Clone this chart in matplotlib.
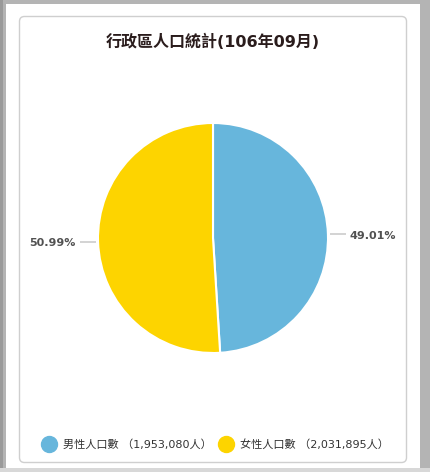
import matplotlib
matplotlib.use("Agg")
import matplotlib.pyplot as plt
import numpy as np
from matplotlib.patches import Rectangle, FancyBboxPatch
from matplotlib.lines import Line2D

categories = ['男性人口數', '女性人口數']
values = [1953080, 2031895]
colors = ['#67b6dc', '#fdd400']
title = '行政區人口統計(106年09月)'

FONTS = ['DejaVu Sans', 'Noto Sans CJK TC']
plt.rcParams['font.family'] = FONTS

W, H = 430, 472
fig = plt.figure(figsize=(W / 100, H / 100), dpi=100, facecolor='white')

# background / frame in pixel coordinates (y downwards)
bg = fig.add_axes([0, 0, 1, 1])
bg.set_xlim(0, W)
bg.set_ylim(H, 0)
bg.axis('off')
bg.add_patch(Rectangle((0, 0), W, H, facecolor='#b4b4b4', edgecolor='none'))
bg.add_patch(Rectangle((0, 0), 3, H, facecolor='#9a9a9a', edgecolor='none'))
bg.add_patch(Rectangle((6, 4), 414, 464, facecolor='white', edgecolor='none'))
bg.add_patch(Rectangle((0, 468), W, 4, facecolor='#d8d8d8', edgecolor='none'))
bg.add_patch(FancyBboxPatch((19.5, 16.5), 387, 446, boxstyle='round,pad=0,rounding_size=5',
                            facecolor='white', edgecolor='#cfcfcf', linewidth=1))

# pie axes in pixel units (y upwards)
ax = fig.add_axes([0, 0, 1, 1])
ax.set_xlim(0, W)
ax.set_ylim(0, H)
ax.axis('off')
cx, cy, r = 213, H - 238, 115
wedges, _ = ax.pie(values, colors=colors, startangle=90, counterclock=False,
                   center=(cx, cy), radius=r, frame=True,
                   wedgeprops=dict(edgecolor='white', linewidth=1.5))
ax.set_xlim(0, W)
ax.set_ylim(0, H)
ax.set_aspect('equal')
ax.axis('off')

total = sum(values)
for w, v in zip(wedges, values):
    ang = np.deg2rad((w.theta1 + w.theta2) / 2)
    pct = v / total * 100
    x0 = cx + (r + 2) * np.cos(ang)
    y0 = cy + (r + 2) * np.sin(ang)
    side = 1 if np.cos(ang) >= 0 else -1
    x1 = x0 + side * 16
    ax.plot([x0, x1], [y0, y0], color='#cccccc', lw=1.2, solid_capstyle='butt')
    ax.text(x1 + side * 4, y0 - 1.5, f'{pct:.2f}%', ha='left' if side > 0 else 'right',
            va='center', fontsize=8, color='#333333', fontweight='bold', alpha=0.85)

fig.text(213 / W, 1 - 42 / H, title, ha='center', va='center', fontsize=11.5,
         fontweight='bold', color='#2a1c1c', family=FONTS)

handles = [Line2D([], [], marker='o', linestyle='none', markersize=11.5,
                  markerfacecolor=c, markeredgecolor=c) for c in colors]
labels = [f'{c} （{v:,}人）' for c, v in zip(categories, values)]
leg = fig.legend(handles, labels, loc='center', bbox_to_anchor=(216 / W, 1 - 444 / H),
                 ncol=2, frameon=False, fontsize=8, handlelength=1.0,
                 handletextpad=0.75, columnspacing=0.8, labelcolor='#333333')

fig.savefig('out.png', dpi=100, facecolor='white')
